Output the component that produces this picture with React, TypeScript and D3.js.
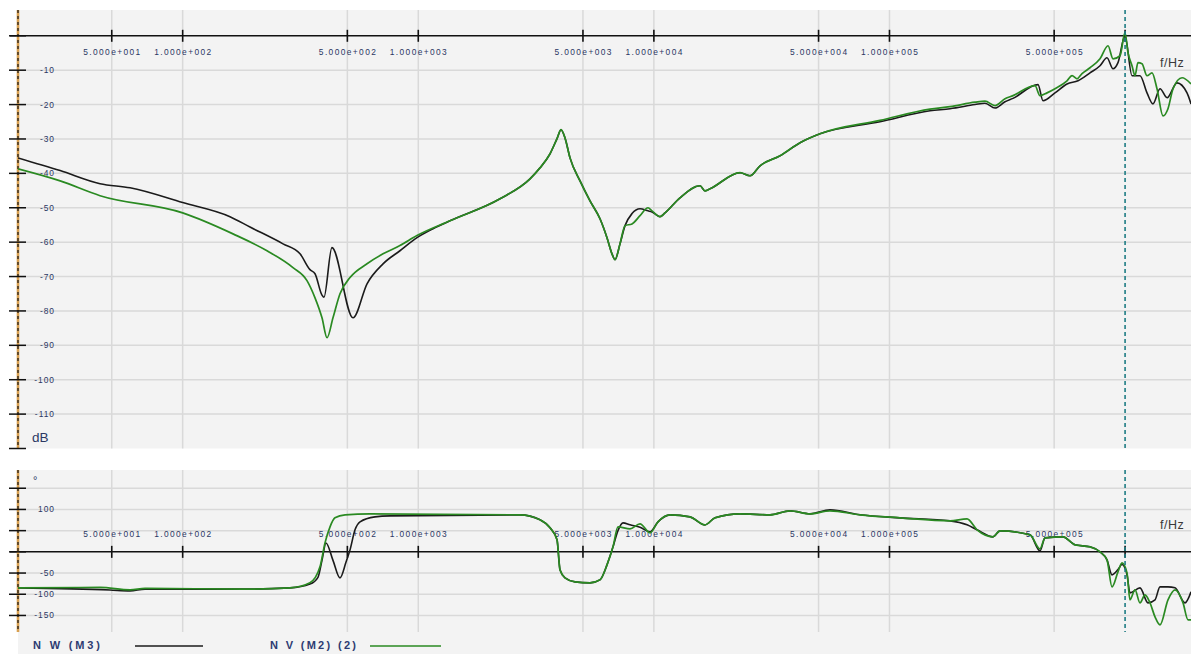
import React from "react";
import * as d3 from "d3";

// ---------- data ----------
const xTickFreqs = [50, 100, 500, 1000, 5000, 10000, 50000, 100000, 500000];
const xTickLabels = ["5.000e+001", "1.000e+002", "5.000e+002", "1.000e+003", "5.000e+003", "1.000e+004", "5.000e+004", "1.000e+005", "5.000e+005"];
const magTicks = [0, -10, -20, -30, -40, -50, -60, -70, -80, -90, -100, -110, -120];
const magTickLabels = ["", "-10", "-20", "-30", "-40", "-50", "-60", "-70", "-80", "-90", "-100", "-110", ""];
const phaseTicks = [150, 100, 50, 0, -50, -100, -150];
const phaseTickLabels = ["", "100", "", "", "-50", "-100", "-150"];
const cursorFreq = 1.0e6;
const seriesNames = ["N W (M3)", "N V (M2) (2)"];

// magnitude [Hz, dB]
const magNW: [number, number][] = [
  [20, -35.5], [30.2, -39.2], [44.6, -43.0], [59.8, -44.2], [100, -48.5], [158.8, -52.6], [193.1, -55.6],
  [266.6, -60.5], [314.8, -63.4], [347, -68.0], [364.5, -69.2], [390.2, -75.4], [397.9, -76.0],
  [430, -61.6], [528.4, -82.0], [606, -72.1], [708.6, -66.3], [836, -62.5], [987.6, -58.7],
  [1155, -56.1], [1363, -53.8], [2223, -47.4], [2980, -41.6], [3286, -38.4], [3624, -34.3],
  [3880, -29.9], [4036, -27.3], [4196, -29.7], [4406, -35.5], [4859, -42.2], [5357, -48.0],
  [5906, -53.2], [6324, -58.7], [6641, -63.4], [6839, -65.1], [7181, -60.5], [7543, -55.2],
  [8075, -51.7], [8732, -50.3], [9443, -50.9], [9817, -51.2], [10617, -52.6], [11148, -51.5],
  [12904, -47.1], [15699, -43.6], [16480, -45.1], [17310, -44.5], [23206, -39.8], [25590, -40.7],
  [28220, -37.8], [34300, -34.9], [41720, -31.1], [50710, -28.5], [91170, -25.0], [148600, -21.8],
  [180700, -21.2], [230700, -20.0], [254300, -19.6], [280500, -21.0], [309300, -19.2], [334400, -18.2],
  [427000, -14.2], [448400, -18.9], [504100, -16.6], [567000, -14.0],
  [631400, -13.1], [709900, -10.8], [782800, -8.7], [838000, -6.4], [888800, -9.6], [933000, -7.8],
  [999000, 0.0], [1070000, -11.6], [1157000, -11.6], [1239000, -16.6], [1314000, -19.8],
  [1407000, -15.4], [1507000, -18.0], [1661000, -13.7], [1832000, -16.6], [1905000, -19.8],
];

const magNV: [number, number][] = [
  [20, -38.7], [30.2, -42.2], [44.6, -46.5], [100, -51.5], [163.5, -57.6], [228, -62.5], [293.9, -67.4],
  [337, -71.2], [364.5, -76.2], [390.2, -82.0], [410, -87.8], [434.5, -82.0], [465.3, -75.0],
  [513.2, -70.3], [606, -66.3], [708.6, -63.4], [836, -61.0], [987.6, -58.1], [1363, -53.8],
  [2223, -47.4], [2980, -41.6], [3286, -38.4], [3624, -34.3], [3880, -29.9], [4036, -27.3],
  [4196, -29.7], [4406, -35.5], [4859, -42.2], [5357, -48.0], [5906, -53.2], [6324, -58.7],
  [6641, -63.4], [6839, -65.1], [7181, -60.5], [7543, -55.2], [8075, -54.7], [8732, -52.3],
  [9443, -50.0], [9817, -50.9], [10617, -52.6], [11148, -51.5], [12904, -47.1], [15699, -43.6],
  [16480, -45.1], [17310, -44.5], [23206, -39.8], [25590, -40.7], [28220, -37.8], [34300, -34.9],
  [41720, -31.1], [50710, -28.5], [91170, -24.6], [148600, -21.3], [180700, -20.6], [230700, -19.3],
  [254300, -19.0], [280500, -20.3], [309300, -18.3], [334400, -17.4],
  [414600, -14.5], [435400, -17.4], [466300, -16.6], [504100, -15.4], [567000, -13.1], [595300, -11.6],
  [625200, -12.5], [656500, -11.0], [709900, -9.3], [782800, -6.7], [846300, -2.9], [888800, -6.7],
  [951700, -5.8], [999000, 0.9], [1029000, -4.9], [1070000, -8.7], [1102000, -11.6], [1134000, -7.8],
  [1180000, -8.1], [1239000, -11.6], [1301000, -10.8], [1366000, -15.4], [1449000, -23.3],
  [1521000, -21.2], [1598000, -15.4], [1745000, -12.2], [1905000, -14.0],
];

// phase [Hz, degrees]
const phaseNW: [number, number][] = [
  [20, -85], [49.1, -90], [59.8, -92], [69.2, -88], [183.9, -88], [285.5, -85], [347, -76],
  [375.2, -60], [390.2, -20], [405.8, 21], [434.5, -20], [465.3, -61.3], [493.6, -24],
  [513.2, 4.7], [538.8, 51.9], [566, 70.8], [655, 82.5], [758.6, 84.9], [2702, 87.3],
  [3286, 75.5], [3624, 56.6], [3880, 28.3], [3996, -42.5], [4196, -61.3], [4627, -70.8],
  [5357, -73.1], [5906, -66], [6324, -30.7], [6707, 11.8], [7041, 50], [7396, 68.4], [7919, 63.7],
  [8732, 58], [9629, 47], [10410, 70.8], [11710, 87.3], [14230, 82.5], [16480, 63.7], [18170, 80.2],
  [23206, 89.6], [31120, 87.3], [37830, 96.7], [45980, 89.6], [55910, 99], [74970, 87.3],
  [110800, 80.2], [180700, 73.1], [213400, 63.7], [235300, 51.9], [275100, 35.4], [294500, 49.5],
  [394900, 40.1], [435400, 2.4], [457400, 33], [545200, 35.4], [613200, 16.5], [709900, 11.8],
  [782800, 0], [838000, -18.9], [880100, -54.2], [933000, -42], [970400, -30], [1019000, -54],
  [1049000, -96.7], [1157000, -84.9], [1251000, -120.3], [1340000, -113.2], [1407000, -82.5],
  [1521000, -82.5], [1629000, -84.9], [1796000, -120.3], [1905000, -94.3],
];

const phaseNV: [number, number][] = [
  [20, -85], [44.6, -84], [59.8, -89.6], [69.2, -86], [183.9, -88], [285.5, -85], [347, -73],
  [382.6, -35.4], [401.9, 21.2], [422.1, 59], [443, 80.2], [489, 87.3], [624, 89.6], [2702, 87.3],
  [3286, 75.5], [3624, 56.6], [3880, 28.3], [3996, -42.5], [4196, -61.3], [4627, -70.8],
  [5357, -73.1], [5906, -66], [6324, -30.7], [6707, 11.8], [7041, 59], [7919, 54.2], [8732, 66],
  [9629, 44.8], [10410, 70.8], [11710, 87.3], [14230, 82.5], [16480, 63.7], [18170, 80.2],
  [23206, 89.6], [31120, 87.3], [37830, 96.7], [45980, 89.6], [55910, 96.7], [74970, 87.3],
  [110800, 80.2], [180700, 73.1], [213400, 77.8], [235300, 51.9], [275100, 35.4], [294500, 49.5],
  [394900, 40.1], [435400, 7.1], [457400, 33], [545200, 35.4], [613200, 16.5], [709900, 11.8],
  [782800, 0], [838000, -18.9], [880100, -82.5], [933000, -47.2], [970400, -25.9], [1019000, -49.5],
  [1049000, -113.2], [1102000, -89.6], [1157000, -120.3], [1215000, -101.4], [1276000, -120.3],
  [1340000, -153.3], [1407000, -172.2], [1521000, -113.2], [1629000, -89.6], [1762000, -120.3],
  [1850000, -160.4], [1905000, -160.4],
];

// ---------- layout ----------
const W = 1191;
const H = 654;
const L = 18;
const R = 1191;
const magTop = 10, magBot = 448.5;
const phTop = 470, phBot = 632;

const colW = "#1b1b1b";
const colV = "#2a8a22";
const gridCol = "#d9d9d9";
const bg = "#f3f3f3";
const labelCol = "#2b3763";
const font = "'Liberation Sans', Arial, sans-serif";

export default function App() {
  const x = d3.scaleLog().domain([20, 2e6]).range([L, 1196]);
  const yM = d3.scaleLinear().domain([7.5, -120]).range([magTop, magBot]);
  const yP = d3.scaleLinear().domain([193, -189]).range([phTop, phBot]);

  const lineM = d3.line<[number, number]>().x(d => x(d[0])).y(d => yM(d[1])).curve(d3.curveMonotoneX);
  const lineP = d3.line<[number, number]>().x(d => x(d[0])).y(d => yP(d[1])).curve(d3.curveMonotoneX);

  const y0M = yM(0);
  const y0P = yP(0);
  const xc = x(cursorFreq);

  const leftAxis = (top: number, bot: number) => (
    <g>
      <line x1={L} x2={L} y1={top} y2={bot} stroke="#d9a050" strokeWidth={2.6} />
      <line x1={L} x2={L} y1={top} y2={bot} stroke="#111" strokeWidth={1.2} strokeDasharray="3,3" />
    </g>
  );

  return (
    <svg width={W} height={H} style={{ position: "absolute", left: 0, top: 0, background: "#fff" }} fontFamily={font}>
      <defs>
        <clipPath id="clipM"><rect x={L} y={magTop} width={R - L} height={magBot - magTop + 2} /></clipPath>
        <clipPath id="clipP"><rect x={L} y={phTop} width={R - L} height={phBot - phTop} /></clipPath>
      </defs>
      <rect x={0} y={0} width={W} height={H} fill="#fff" />
      {/* panel backgrounds */}
      <rect x={L} y={magTop} width={R - L} height={magBot - magTop} fill={bg} />
      <rect x={L} y={phTop} width={R - L} height={H - phTop} fill={bg} />

      {/* ===== magnitude panel ===== */}
      {magTicks.filter(t => t !== 0 && t !== -120).map(t => (
        <line key={"gm" + t} x1={L} x2={R} y1={yM(t)} y2={yM(t)} stroke={gridCol} strokeWidth={1.5} />
      ))}
      {xTickFreqs.map(f => (
        <line key={"gvm" + f} x1={x(f)} x2={x(f)} y1={magTop} y2={magBot} stroke={gridCol} strokeWidth={1.5} />
      ))}
      <line x1={10} x2={R} y1={y0M} y2={y0M} stroke="#111" strokeWidth={1.5} />
      {xTickFreqs.map(f => (
        <line key={"tm" + f} x1={x(f)} x2={x(f)} y1={y0M - 6} y2={y0M + 6} stroke="#111" strokeWidth={1.6} />
      ))}
      <line x1={xc} x2={xc} y1={y0M - 6} y2={y0M + 6} stroke="#111" strokeWidth={1.6} />
      {xTickFreqs.map((f, i) => (
        <text key={"lm" + f} x={x(f)} y={55} fontSize={8.4} fill={labelCol} textAnchor="middle"
          textLength={57} lengthAdjust="spacing">{xTickLabels[i]}</text>
      ))}
      {leftAxis(magTop, magBot)}
      {magTicks.map((t, i) => (
        <g key={"ym" + t}>
          <line x1={9} x2={26} y1={yM(t)} y2={yM(t)} stroke="#111" strokeWidth={1.5} />
          {magTickLabels[i] && (
            <text x={55} y={yM(t) + 3} fontSize={8.4} fill={labelCol} textAnchor="end" letterSpacing={1}>{magTickLabels[i]}</text>
          )}
        </g>
      ))}
      <text x={32} y={442} fontSize={13.5} fill={labelCol}>dB</text>
      <text x={1160} y={67} fontSize={12.5} fill="#3a3a3a" letterSpacing={0.5}>f/Hz</text>
      <g clipPath="url(#clipM)">
        <path d={lineM(magNW) || ""} fill="none" stroke={colW} strokeWidth={1.6} />
        <path d={lineM(magNV) || ""} fill="none" stroke={colV} strokeWidth={1.7} />
      </g>
      <line x1={xc} x2={xc} y1={magTop} y2={magBot + 2} stroke="#1e7c84" strokeWidth={1.6} strokeDasharray="4,3" />

      {/* ===== phase panel ===== */}
      {phaseTicks.filter(t => t !== 0).map(t => (
        <line key={"gp" + t} x1={L} x2={R} y1={yP(t)} y2={yP(t)} stroke={gridCol} strokeWidth={1.5} />
      ))}
      {xTickFreqs.map(f => (
        <line key={"gvp" + f} x1={x(f)} x2={x(f)} y1={phTop} y2={phBot} stroke={gridCol} strokeWidth={1.5} />
      ))}
      <line x1={10} x2={R} y1={y0P} y2={y0P} stroke="#111" strokeWidth={1.5} />
      {xTickFreqs.map(f => (
        <line key={"tp" + f} x1={x(f)} x2={x(f)} y1={y0P - 6} y2={y0P + 6} stroke="#111" strokeWidth={1.6} />
      ))}
      <line x1={xc} x2={xc} y1={y0P - 6} y2={y0P + 6} stroke="#111" strokeWidth={1.6} />
      {xTickFreqs.map((f, i) => (
        <text key={"lp" + f} x={x(f)} y={537} fontSize={8.4} fill={labelCol} textAnchor="middle"
          textLength={57} lengthAdjust="spacing">{xTickLabels[i]}</text>
      ))}
      {leftAxis(phTop, phBot)}
      {phaseTicks.map((t, i) => (
        <g key={"yp" + t}>
          <line x1={9} x2={26} y1={yP(t)} y2={yP(t)} stroke="#111" strokeWidth={1.5} />
          {phaseTickLabels[i] && (
            <text x={55} y={yP(t) + 3} fontSize={8.4} fill={labelCol} textAnchor="end" letterSpacing={1}>{phaseTickLabels[i]}</text>
          )}
        </g>
      ))}
      <text x={33} y={484} fontSize={11} fill={labelCol}>°</text>
      <text x={1160} y={529} fontSize={12.5} fill="#3a3a3a" letterSpacing={0.5}>f/Hz</text>
      <g clipPath="url(#clipP)">
        <path d={lineP(phaseNW) || ""} fill="none" stroke={colW} strokeWidth={1.6} />
        <path d={lineP(phaseNV) || ""} fill="none" stroke={colV} strokeWidth={1.7} />
      </g>
      <line x1={xc} x2={xc} y1={phTop} y2={phBot} stroke="#1e7c84" strokeWidth={1.6} strokeDasharray="4,3" />

      {/* ===== legend ===== */}
      <text x={33} y={649} fontSize={11} fontWeight="bold" fill="#2d3b72" textLength={67} lengthAdjust="spacing">{seriesNames[0]}</text>
      <line x1={135} x2={203} y1={646} y2={646} stroke={colW} strokeWidth={1.5} />
      <text x={270} y={649} fontSize={11} fontWeight="bold" fill="#2d3b72" textLength={86} lengthAdjust="spacing">{seriesNames[1]}</text>
      <line x1={370} x2={441} y1={646} y2={646} stroke={colV} strokeWidth={1.5} />
    </svg>
  );
}
